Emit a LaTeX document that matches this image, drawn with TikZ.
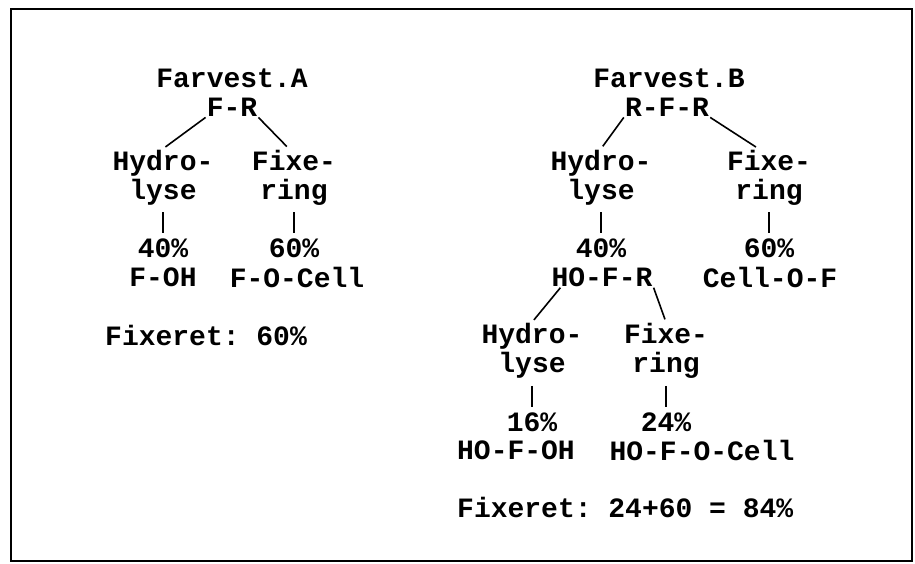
\documentclass[tikz,border=0pt]{standalone}
\usepackage{fontspec}
\setmonofont{Liberation Mono}
\usetikzlibrary{positioning}

\tikzset{
  lbl/.style={font=\ttfamily\bfseries\fontsize{28}{29}\selectfont,align=center,inner sep=1pt},
  branch/.style={line width=1.6pt,shorten >=3pt},
  stem/.style={line width=1.4pt,shorten <=6pt,shorten >=4pt},
}

\begin{document}
\begin{tikzpicture}[x=1pt,y=-1pt]
  \useasboundingbox (0,0) rectangle (915,564);
  \draw[line width=2pt] (11,9) rectangle (912,561);
  % Farvest A
  \node[lbl] (nameA) at (232,78) {Farvest.A};
  \node[lbl] (frA) at (232,107) {F-R};
  \node[lbl] (hydA) at (163,177.5) {Hydro-\\lyse};
  \node[lbl] (fixA) at (294,177.5) {Fixe-\\ring};
  \node[lbl] (pctA1) at (163,248) {40\%};
  \node[lbl] (prodA1) at (163,277) {F-OH};
  \node[lbl] (pctA2) at (294,248) {60\%};
  \node[lbl] (prodA2) at (297,277) {F-O-Cell};
  \node[lbl,anchor=west] (totA) at (104,335) {Fixeret: 60\%};
  \draw[branch] (frA.south west) -- (hydA.north);
  \draw[branch] (frA.south east) -- (fixA.100);
  \draw[stem] (hydA.south) -- (pctA1.north);
  \draw[stem] (fixA.south) -- (pctA2.north);
  % Farvest B
  \node[lbl] (nameB) at (669,78) {Farvest.B};
  \node[lbl] (frB) at (667,107) {R-F-R};
  \node[lbl] (hydB) at (601,177.5) {Hydro-\\lyse};
  \node[lbl] (fixB) at (769,177.5) {Fixe-\\ring};
  \node[lbl] (pctB1) at (601,248) {40\%};
  \node[lbl] (prodB1) at (602,277) {HO-F-R};
  \node[lbl] (pctB2) at (769,248) {60\%};
  \node[lbl] (prodB2) at (770,277) {Cell-O-F};
  \node[lbl] (hydC) at (532,351) {Hydro-\\lyse};
  \node[lbl] (fixC) at (666,351) {Fixe-\\ring};
  \node[lbl] (pctC1) at (532,422) {16\%};
  \node[lbl] (prodC1) at (516,450) {HO-F-OH};
  \node[lbl] (pctC2) at (666,422) {24\%};
  \node[lbl] (prodC2) at (702,450) {HO-F-O-Cell};
  \node[lbl,anchor=west] (totB) at (456,507) {Fixeret: 24+60 = 84\%};
  \draw[branch] (frB.south west) -- (hydB.north);
  \draw[branch] (frB.south east) -- (fixB.110);
  \draw[stem] (hydB.south) -- (pctB1.north);
  \draw[stem] (fixB.south) -- (pctB2.north);
  \draw[branch] ([xshift=10pt]prodB1.south west) -- (hydC.north);
  \draw[branch] (prodB1.south east) -- (fixC.north);
  \draw[stem] (hydC.south) -- (pctC1.north);
  \draw[stem] (fixC.south) -- (pctC2.north);
\end{tikzpicture}
\end{document}
